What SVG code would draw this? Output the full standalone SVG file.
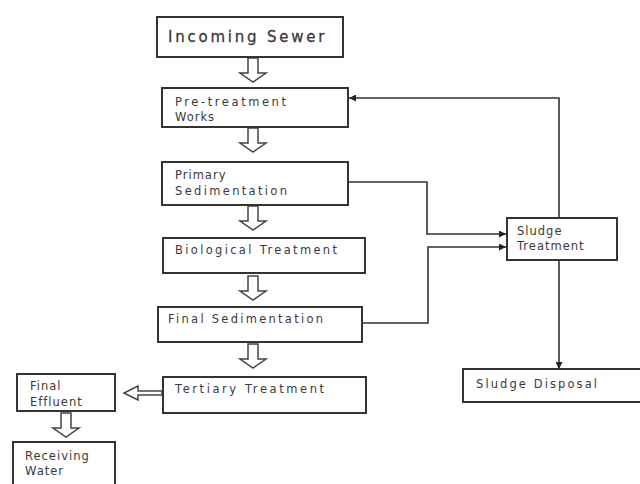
<svg xmlns="http://www.w3.org/2000/svg" width="640" height="484" viewBox="0 0 640 484">
<style>
.box{fill:#fff;stroke:#333;stroke-width:2}
.t{font-family:"DejaVu Sans",Verdana,sans-serif;font-size:11.5px;fill:#3a3a3a;letter-spacing:1px}
.big{font-family:"DejaVu Sans",Verdana,sans-serif;font-size:15px;fill:#3a3a3a;letter-spacing:0.5px;stroke:#3a3a3a;stroke-width:0.3}
.con{fill:none;stroke:#333;stroke-width:1.6}
.ha{fill:#fff;stroke:#444;stroke-width:1.5;stroke-linejoin:miter}
</style>
<defs>
<marker id="ah" viewBox="0 0 10 10" refX="10" refY="5" markerWidth="7" markerHeight="7" markerUnits="userSpaceOnUse" orient="auto">
<path d="M0,0 L10,5 L0,10 z" fill="#222"/>
</marker>
<path id="down" d="M-5,0 L5,0 L5,15 L13,15 L0,24 L-13,15 L-5,15 z"/>
</defs>
<rect width="640" height="484" fill="#fff"/>
<g id="connectors">
<use href="#down" class="ha" x="253" y="58"/>
<use href="#down" class="ha" x="253" y="128"/>
<use href="#down" class="ha" x="253" y="206"/>
<use href="#down" class="ha" x="253" y="276"/>
<use href="#down" class="ha" x="253" y="344"/>
<use href="#down" class="ha" x="66" y="413"/>
<path class="ha" d="M162,391 L138,391 L138,386 L124,393 L138,400 L138,395 L162,395 z"/>
<path class="con" d="M559,218 L559,98 L349,98" marker-end="url(#ah)"/>
<path class="con" d="M348,182 L427,182 L427,234 L506,234" marker-end="url(#ah)"/>
<path class="con" d="M362,323 L428,323 L428,247 L506,247" marker-end="url(#ah)"/>
<path class="con" d="M559,260 L559,369" marker-end="url(#ah)"/>
</g>
<g id="incoming">
<rect class="box" x="157" y="17" width="186" height="40"/>
<text class="big" x="168" y="42" textLength="157">Incoming Sewer</text>
</g>
<g id="pretreatment">
<rect class="box" x="162" y="88" width="186" height="39"/>
<text class="t" x="175" y="106" textLength="112">Pre-treatment</text>
<text class="t" x="175" y="121">Works</text>
</g>
<g id="primary">
<rect class="box" x="162" y="162" width="186" height="43"/>
<text class="t" x="175" y="179">Primary</text>
<text class="t" x="175" y="195" textLength="113">Sedimentation</text>
</g>
<g id="biological">
<rect class="box" x="163" y="238" width="202" height="35"/>
<text class="t" x="175" y="254" textLength="163">Biological Treatment</text>
</g>
<g id="finalsed">
<rect class="box" x="158" y="307" width="204" height="35"/>
<text class="t" x="168" y="323" textLength="156">Final Sedimentation</text>
</g>
<g id="tertiary">
<rect class="box" x="163" y="377" width="203" height="36"/>
<text class="t" x="175" y="393" textLength="150">Tertiary Treatment</text>
</g>
<g id="finaleffluent">
<rect class="box" x="17" y="374" width="98" height="37"/>
<text class="t" x="30" y="390">Final</text>
<text class="t" x="30" y="406">Effluent</text>
</g>
<g id="receiving">
<rect class="box" x="13" y="442" width="102" height="44"/>
<text class="t" x="25" y="460">Receiving</text>
<text class="t" x="25" y="475">Water</text>
</g>
<g id="sludgetreatment">
<rect class="box" x="507" y="218" width="110" height="42"/>
<text class="t" x="517" y="235">Sludge</text>
<text class="t" x="517" y="250">Treatment</text>
</g>
<g id="sludgedisposal">
<rect class="box" x="463" y="369" width="190" height="33"/>
<text class="t" x="476" y="388" textLength="122">Sludge Disposal</text>
</g>
</svg>
